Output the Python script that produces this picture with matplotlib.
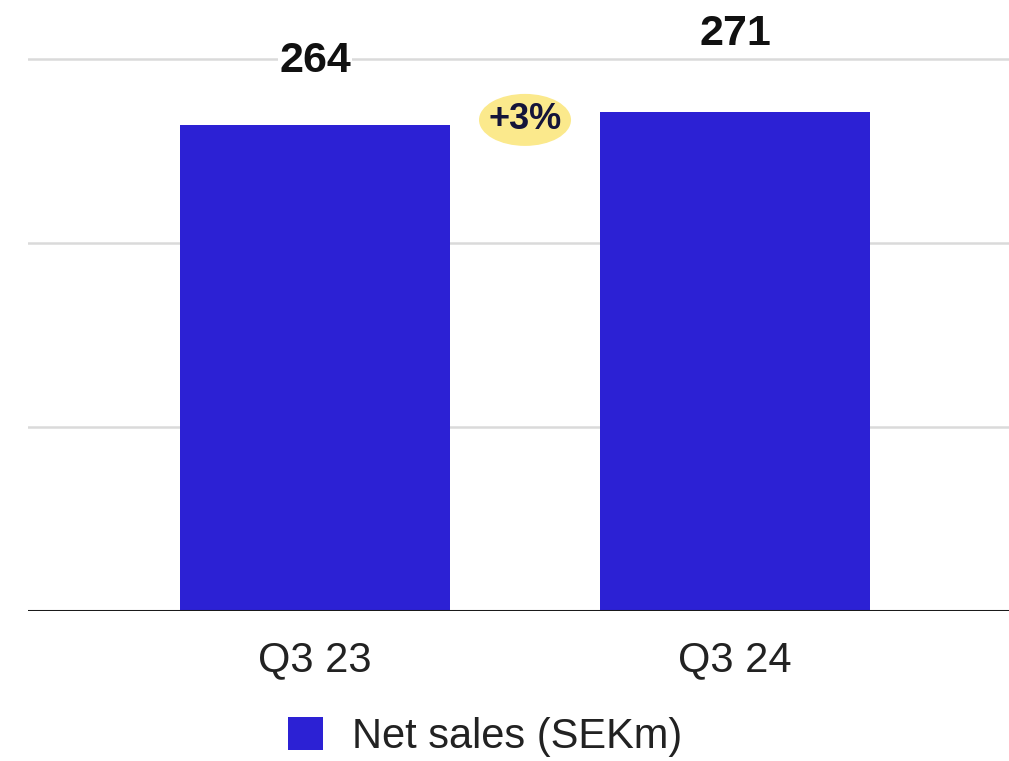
"""Net sales Q3 23 vs Q3 24 bar chart."""

import matplotlib

matplotlib.use("Agg")
import matplotlib.pyplot as plt
from matplotlib.patches import Ellipse
import numpy as np

categories = ["Q3 23", "Q3 24"]
net_sales = [264, 271]
change_label = "+3%"
series_label = "Net sales (SEKm)"
grid_values = [100, 200, 300]

BAR_COLOR = "#2C21D4"
FONT = "Liberation Sans"

plt.rcParams["font.family"] = [FONT, "DejaVu Sans"]

fig = plt.figure(figsize=(10.09, 7.61), dpi=100)
ax = fig.add_axes([28 / 1009, 150 / 761, 981 / 1009, 611 / 761])

x = np.arange(len(categories))
ax.bar(x, net_sales, width=0.643, color=BAR_COLOR, zorder=3, label=series_label)

for g in grid_values:
    ax.axhline(g, color="#DADADA", lw=1.8, zorder=1)
ax.axhline(0, color="#1A1A1A", lw=2.2, zorder=4)

ax.set_xlim(-0.683, 1.652)
ax.set_ylim(0, 332)

# value labels above bars
offsets = [64, 78]
for xi, v, off in zip(x, net_sales, offsets):
    ax.annotate(
        str(v), (xi, v), xytext=(0, off * 0.72), textcoords="offset points",
        ha="center", va="center", fontsize=31, fontweight="bold", color="#111111",
        bbox=dict(boxstyle="square,pad=0.02", fc="white", ec="none"), zorder=5,
    )

# growth bubble between bars
bubble_y = (611 - 120) / 1.84
ax.add_patch(Ellipse((0.5, bubble_y), 92 / 420, 52 / 1.84, fc="#FBE98C",
                     ec="none", zorder=6))
ax.text(0.5, bubble_y, change_label, ha="center", va="center",
        fontsize=26, fontweight="bold", color="#14143A", zorder=7)

ax.set_xticks(x)
ax.set_xticklabels(categories, fontsize=30, color="#222222")
ax.tick_params(axis="x", length=0, pad=21)
ax.set_yticks([])
for s in ax.spines.values():
    s.set_visible(False)

fig.legend(
    loc="center", bbox_to_anchor=(485 / 1009, 1 - 737 / 761), frameon=False,
    fontsize=30, handlelength=0.85, handleheight=0.85, handletextpad=0.7,
    labelcolor="#222222",
)

fig.savefig("out.png", dpi=100)
plt.close(fig)
